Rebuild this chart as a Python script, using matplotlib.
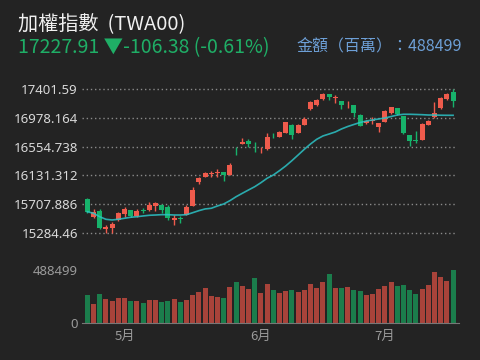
import numpy as np
import matplotlib
matplotlib.use("Agg")
import matplotlib.pyplot as plt

plt.rcParams['font.family'] = ['Noto Sans CJK TC', 'DejaVu Sans']

# daily candles (open, high, low, close)
opens = [15780, 15524, 15608, 15339, 15363, 15476, 15564, 15618, 15535, 15615,
         15623, 15682, 15692, 15671, 15476, 15497, 15549, 15686, 16039, 16112,
         16155, 16165, 16181, 16137, 16510, 16593, 16642, 16582, 16500, 16515,
         16730, 16700, 16759, 16872, 16759, 16872, 17112, 17166, 17250, 17328,
         17275, 17225, 17178, 17166, 17019, 16897, 16932, 16839, 16921, 17044,
         17118, 17005, 16725, 16645, 16652, 16872, 16986, 17118, 17255, 17362]
highs = [15804, 15633, 15633, 15402, 15451, 15589, 15671, 15623, 15633, 15656,
         15745, 15745, 15711, 15696, 15549, 15534, 15692, 15957, 16112, 16186,
         16200, 16221, 16185, 16309, 16554, 16677, 16662, 16627, 16544, 16750,
         16759, 16789, 16921, 16880, 16880, 16986, 17225, 17255, 17340, 17335,
         17313, 17230, 17230, 17170, 17030, 16950, 16995, 16906, 17090, 17140,
         17125, 17010, 16730, 16789, 16895, 16945, 17215, 17285, 17345, 17401.59]
lows = [15579, 15501, 15344, 15284.46, 15290, 15466, 15516, 15524, 15516, 15574,
        15613, 15613, 15574, 15476, 15402, 15436, 15545, 15686, 16005, 16104,
        16112, 16104, 16054, 16137, 16431, 16593, 16554, 16480, 16466, 16505,
        16677, 16691, 16750, 16662, 16750, 16865, 17100, 17151, 17240, 17240,
        17191, 17103, 17118, 16995, 16855, 16885, 16887, 16774, 16910, 17035,
        17020, 16740, 16568, 16612, 16645, 16865, 16980, 17110, 17245, 17141]
closes = [15589, 15598, 15363, 15377, 15417, 15574, 15642, 15535, 15613, 15610,
          15692, 15721, 15623, 15501, 15505, 15493, 15671, 15917, 16098, 16162,
          16164, 16172, 16137, 16284, 16500, 16627, 16593, 16575, 16508, 16700,
          16722, 16765, 16912, 16725, 16872, 16956, 17215, 17240, 17328, 17280,
          17282, 17166, 17185, 17044, 16862, 16936, 16938, 16897, 17078, 17133,
          17030, 16750, 16637, 16640, 16887, 16936, 17044, 17274, 17334.29, 17227.91]

ma = [15598, 15574, 15524, 15486, 15476, 15486, 15501, 15516, 15524, 15535,
      15545, 15549, 15554, 15554, 15549, 15549, 15554, 15583, 15613, 15638,
      15648, 15682, 15711, 15760, 15818, 15868, 15917, 15965, 16024, 16089,
      16137, 16201, 16270, 16348, 16431, 16515, 16593, 16662, 16711, 16740,
      16770, 16814, 16850, 16880, 16909, 16931, 16946, 16961, 16975, 16997,
      17019, 17030, 17030, 17027, 17024, 17019, 17019, 17016, 17015, 17015]

volumes = [258074, 175120, 267290, 221206, 205844, 230420, 230420, 205844, 205844, 187410,
           211990, 211990, 193555, 202770, 221206, 193555, 211990, 258074, 285722, 322590,
           248855, 239640, 230420, 331810, 377890, 341025, 313375, 414760, 276505, 359460,
           304160, 276505, 294940, 304160, 285722, 304160, 359460, 322590, 377890, 451630,
           322590, 322590, 331810, 304160, 294940, 258074, 267290, 313375, 341025, 377890,
           341025, 350240, 304160, 267290, 313375, 350240, 470060, 423975, 387110, 488499]
vol_dir = "GRGRRRRGRGRRGGRGRRRRRRGRGRRGRRGRRGRRRRRGRGRGGRRRRRGGGGRRRRRG"

month_labels = ["5月", "6月", "7月"]
month_pos = [6, 28, 48]

BG = "#232323"
UP = "#ef5b4c"
DOWN = "#17b26b"
VUP = "#a8433a"
VDOWN = "#1b7d4c"

fig = plt.figure(figsize=(4.8, 3.6), dpi=100, facecolor=BG)
W, H = 480, 360

def axes_px(x0, y0, x1, y1):
    return fig.add_axes([x0 / W, 1 - y1 / H, (x1 - x0) / W, (y1 - y0) / H])

x = np.arange(len(closes))
o = np.array(opens, float)
c = np.array(closes, float)
up = c >= o

# price panel
ax = axes_px(82, 82, 457, 240)
ax.set_facecolor(BG)
lo, hi = min(lows), max(highs)
pad = (hi - lo) / 144 * 7
ax.set_ylim(lo - pad, hi + pad)
ax.set_xlim(-0.855, 59.63)
ticks = np.linspace(lo, hi, 6)
ax.set_yticks(ticks)
ax.set_yticklabels([("%.3f" % t).rstrip("0").rstrip(".") for t in ticks],
                   color="#d8d8d8", fontsize=9.5, family=["Noto Sans", "DejaVu Sans"])
ax.tick_params(axis="y", length=0, pad=3)
ax.set_xticks([])
for s in ax.spines.values():
    s.set_visible(False)
ax.grid(axis="y", color="#8a8a8a", linestyle=(0, (1, 2)), linewidth=1)
ax.set_axisbelow(True)

colors = [UP if u else DOWN for u in up]
ax.vlines(x, lows, highs, colors=colors, linewidth=1, zorder=2)
body = np.maximum(np.abs(c - o), 10)
ax.bar(x, body, bottom=np.minimum(o, c), width=0.8, color=colors, zorder=3)
ax.plot(x, ma, color="#2cc3c6", linewidth=1.2, alpha=0.85, zorder=4)

# volume panel
av = axes_px(82, 265, 459, 323)
av.set_facecolor(BG)
vmax = max(volumes)
av.set_ylim(0, vmax * 58 / 53)
av.set_xlim(-0.855, 59.95)
vcol = [VUP if d == "R" else VDOWN for d in vol_dir]
av.bar(x, volumes, width=0.8, color=vcol)
av.set_yticks([0, vmax])
av.set_yticklabels(["0", str(vmax)], color="#9a9a9a", fontsize=9.5,
                   family=["Noto Sans", "DejaVu Sans"])
av.tick_params(axis="y", length=0, pad=3)
av.set_xticks(month_pos)
av.set_xticklabels(month_labels, color="#9a9a9a", fontsize=9.5)
av.tick_params(axis="x", length=0, pad=5)
for k, s in av.spines.items():
    s.set_visible(k == "bottom")
av.spines["bottom"].set_color("#777777")

# header
fig.text(18 / W, 1 - 25 / H, "加權指數  (TWA00)", color="#f0f0f0", fontsize=14.5,
         va="center", ha="left")
fig.text(18 / W, 1 - 48 / H, "17227.91 ▼-106.38 (-0.61%)", color="#1fae66",
         fontsize=14, va="center", ha="left")
fig.text(462 / W, 1 - 47 / H, "金額（百萬）：488499", color="#6d9fd6",
         fontsize=11.5, va="center", ha="right")

fig.savefig("out.png", dpi=100, facecolor=BG)
